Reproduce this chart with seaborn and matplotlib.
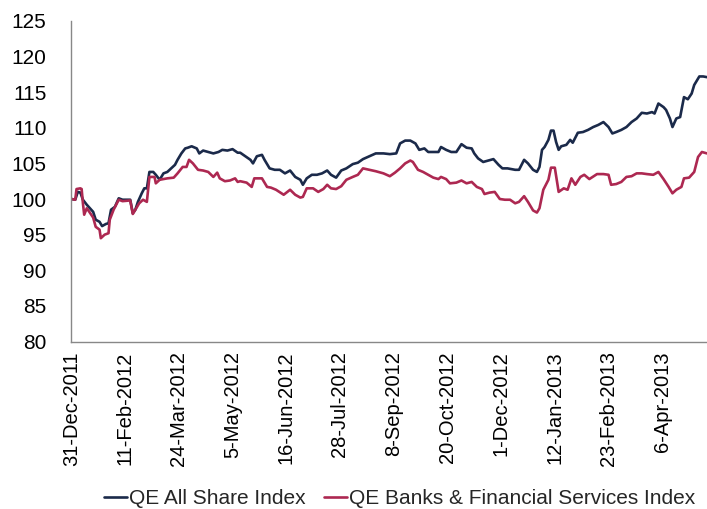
import numpy as np
import pandas as pd
import matplotlib
matplotlib.use("Agg")
import matplotlib.pyplot as plt
import seaborn as sns

# Rebased index levels (31-Dec-2011 = 100)
start_date = "2011-12-31"

all_share_days = [0, 3, 5, 7, 9, 12, 14, 17, 19, 22, 24, 27, 29, 31, 34, 37, 40, 43, 46, 48,
                  50, 52, 55, 57, 59, 61, 64, 66, 69, 72, 75, 78, 81, 83, 86, 89, 91, 94, 98, 100,
                  103, 107, 111, 115, 118, 122, 126, 130, 132, 136, 140, 142, 145, 149, 151, 155,
                  159, 163, 167, 171, 175, 179, 181, 184, 188, 192, 196, 200, 203, 207, 211, 215,
                  220, 224, 228, 233, 238, 244, 249, 254, 257, 261, 265, 269, 272, 276, 279, 283,
                  287, 289, 293, 297, 301, 305, 309, 313, 315, 318, 322, 326, 330, 334, 337, 341,
                  347, 350, 354, 357, 361, 364, 366, 368, 370, 373, 375, 377, 379, 381, 383, 387,
                  390, 392, 396, 400, 404, 408, 412, 416, 420, 423, 426, 430, 434, 438, 442, 446,
                  450, 454, 456, 459, 463, 465, 468, 470, 473, 476, 479, 482, 485, 487, 491, 494, 497]
all_share_vals = [100.0, 99.9, 101.0, 100.9, 99.9, 99.2, 98.8, 98.2, 97.1, 96.8, 96.2, 96.5, 96.6,
                  98.5, 98.9, 100.1, 99.9, 99.9, 99.9, 98.0, 98.5, 99.6, 100.8, 101.5, 101.5, 103.8,
                  103.8, 103.4, 102.7, 103.6, 103.8, 104.3, 104.8, 105.5, 106.4, 107.1, 107.2, 107.4,
                  107.1, 106.4, 106.8, 106.6, 106.4, 106.6, 106.9, 106.8, 107.0, 106.5, 106.5, 106.0,
                  105.5, 105.0, 106.0, 106.2, 105.5, 104.3, 104.1, 104.1, 103.6, 104.0, 103.1, 102.7,
                  102.0, 102.9, 103.4, 103.4, 103.6, 104.0, 103.4, 103.0, 104.0, 104.3, 104.9, 105.1,
                  105.6, 106.0, 106.4, 106.4, 106.3, 106.4, 107.8, 108.2, 108.2, 107.8, 106.9, 107.1,
                  106.6, 106.6, 106.6, 107.3, 106.9, 106.6, 106.6, 107.7, 107.2, 107.1, 106.4, 105.7,
                  105.2, 105.4, 105.6, 104.8, 104.3, 104.3, 104.1, 104.1, 105.5, 105.0, 104.1, 103.8,
                  104.5, 106.9, 107.3, 108.3, 109.6, 109.6, 108.0, 106.9, 107.4, 107.6, 108.3, 107.9,
                  109.3, 109.4, 109.7, 110.1, 110.4, 110.8, 110.1, 109.2, 109.4, 109.7, 110.1, 110.8,
                  111.3, 112.1, 112.0, 112.2, 112.0, 113.4, 112.9, 112.5, 111.3, 110.1, 111.3, 111.5,
                  114.3, 114.0, 114.8, 116.0, 117.2, 117.2, 117.1]

banks_days = [0, 3, 4, 7, 8, 9, 10, 12, 14, 17, 19, 22, 23, 26, 29, 30, 33, 35, 37, 40, 46, 48,
              50, 53, 56, 59, 61, 65, 66, 69, 75, 80, 83, 87, 90, 92, 95, 99, 103, 107, 111, 114,
              116, 120, 124, 128, 130, 132, 137, 141, 143, 149, 153, 156, 160, 166, 171, 175, 179,
              181, 184, 189, 193, 197, 200, 203, 207, 211, 215, 220, 224, 228, 233, 238, 244, 249,
              253, 257, 261, 265, 267, 271, 275, 279, 283, 287, 289, 293, 296, 301, 305, 309, 313,
              317, 321, 323, 327, 331, 335, 339, 343, 347, 350, 354, 357, 361, 364, 366, 369, 373,
              375, 378, 381, 385, 388, 391, 394, 398, 401, 405, 411, 416, 420, 422, 426, 430, 434,
              438, 442, 446, 450, 455, 459, 463, 467, 470, 473, 477, 479, 483, 487, 490, 493, 497]
banks_vals = [100.0, 99.9, 101.4, 101.5, 101.4, 99.4, 97.8, 98.7, 98.2, 97.4, 96.1, 95.7, 94.5,
              95.0, 95.2, 97.1, 98.5, 99.2, 99.9, 99.7, 99.8, 97.9, 98.5, 99.4, 99.9, 99.6, 103.1,
              103.1, 102.2, 102.7, 102.9, 103.0, 103.6, 104.5, 104.5, 105.5, 105.0, 104.1, 104.0,
              103.8, 103.1, 103.7, 102.9, 102.5, 102.6, 102.9, 102.4, 102.5, 102.3, 101.7, 102.9,
              102.9, 101.7, 101.6, 101.3, 100.6, 101.3, 100.6, 100.2, 100.3, 101.5, 101.5, 101.0,
              101.4, 102.0, 101.5, 101.4, 101.8, 102.7, 103.1, 103.4, 104.3, 104.1, 103.9, 103.6,
              103.2, 103.7, 104.3, 105.0, 105.4, 105.2, 104.1, 103.8, 103.4, 103.0, 102.8, 103.1,
              102.8, 102.2, 102.3, 102.6, 102.2, 102.4, 101.7, 101.4, 100.7, 100.9, 101.0, 100.0,
              99.9, 99.9, 99.4, 99.6, 100.4, 99.6, 98.4, 98.1, 98.7, 101.3, 102.7, 104.4, 104.4,
              101.0, 101.5, 101.3, 102.9, 102.0, 103.1, 103.4, 102.8, 103.5, 103.5, 103.4, 102.0,
              102.1, 102.4, 103.1, 103.2, 103.6, 103.6, 103.5, 103.4, 103.8, 102.8, 101.7, 100.8,
              101.3, 101.7, 102.9, 103.0, 103.8, 105.9, 106.6, 106.4]

series_names = ["QE All Share Index", "QE Banks & Financial Services Index"]
series_colors = ["#1b2a4a", "#ad2851"]

t0 = pd.Timestamp(start_date)
df = pd.concat([
    pd.DataFrame({"Date": t0 + pd.to_timedelta(all_share_days, unit="D"),
                  "Index": all_share_vals, "Series": series_names[0]}),
    pd.DataFrame({"Date": t0 + pd.to_timedelta(banks_days, unit="D"),
                  "Index": banks_vals, "Series": series_names[1]}),
], ignore_index=True)

sns.set_style("white")
plt.rcParams["font.family"] = ["Liberation Sans", "DejaVu Sans"]

fig = plt.figure(figsize=(7.07, 5.09), dpi=100)
ax = fig.add_axes([0.101, 0.329, 0.899, 0.630])

sns.lineplot(data=df, x="Date", y="Index", hue="Series", hue_order=series_names,
             palette=series_colors, linewidth=1.9, ax=ax, legend=False)

# axes styling
ax.set_ylim(80, 125)
ax.set_yticks(np.arange(80, 126, 5))
ax.set_xlim(t0, t0 + pd.Timedelta(days=497))
tick_dates = pd.date_range(t0, periods=12, freq="42D")
ax.set_xticks(tick_dates)
ax.set_xticklabels([f"{d.day}-{d:%b-%Y}" for d in tick_dates], rotation=90)
ax.set_xlabel("")
ax.set_ylabel("")
ax.tick_params(axis="both", labelsize=15, colors="#888888", labelcolor="black",
               direction="out", length=5, width=1)
ax.tick_params(axis="x", labelsize=14.5, pad=2)
ax.tick_params(axis="y", pad=13)
for side in ["top", "right"]:
    ax.spines[side].set_visible(False)
for side in ["left", "bottom"]:
    ax.spines[side].set_color("#888888")
    ax.spines[side].set_linewidth(1)
ax.grid(False)

handles = [plt.Line2D([], [], color=c, linewidth=1.9) for c in series_colors]
fig.legend(handles, series_names, loc="lower center", bbox_to_anchor=(0.565, -0.035),
           ncol=2, frameon=False, fontsize=15, handlelength=1.1, handletextpad=0.1,
           columnspacing=0.9)

fig.savefig("out.png", dpi=100)
